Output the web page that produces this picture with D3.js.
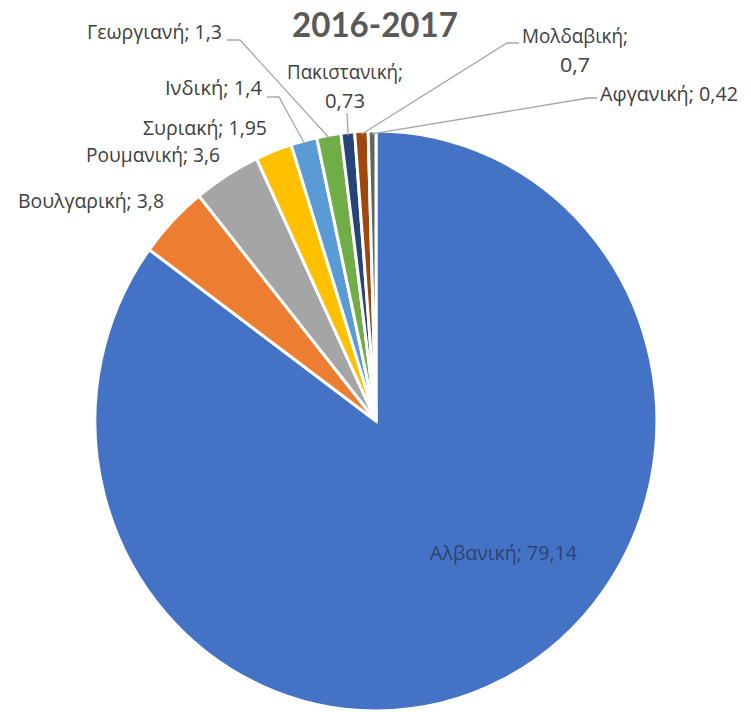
<!DOCTYPE html>
<html><head><meta charset="utf-8">
<script src="https://cdn.jsdelivr.net/npm/d3@7"></script>
<style>body{margin:0;background:#fff}svg{display:block}</style>
</head><body>
<svg id="c" width="751" height="712"></svg>
<script>
const title = "2016-2017";
const categories = ["Αλβανική","Βουλγαρική","Ρουμανική","Συριακή","Ινδική","Γεωργιανή","Πακιστανική","Μολδαβική","Αφγανική"];
const values = [79.14, 3.8, 3.6, 1.95, 1.4, 1.3, 0.73, 0.7, 0.42];
const valueLabels = ["79,14","3,8","3,6","1,95","1,4","1,3","0,73","0,7","0,42"];
const colors = ["#4472C4","#ED7D31","#A5A5A5","#FFC000","#5B9BD5","#70AD47","#264478","#9E480E","#636363"];

// label layout
const layout = [
  {x:430, y:560, anchor:"start", lines:1, lead:null, w:147},
  {x:164, y:208, anchor:"end", lines:1, lead:null, w:146},
  {x:220, y:162, anchor:"end", lines:1, lead:null, w:134},
  {x:267, y:135, anchor:"end", lines:1, lead:null, w:124},
  {x:262, y:95, anchor:"end", lines:1, lead:[[267,97],[279,97]], w:97},
  {x:222, y:39, anchor:"end", lines:1, lead:[[227,40],[240,40]], w:135},
  {x:345, y:79, anchor:"middle", lines:2, lead:[[347,113]], w:116, w2:40},
  {x:575, y:43, anchor:"middle", lines:2, lead:[[519,43],[507,43]], w:106, w2:30},
  {x:600, y:101, anchor:"start", lines:1, lead:[[597,98],[588,98]], w:138}
];

const svg = d3.select("#c");
const cx = 376, cy = 421, rx = 281, ry = 290;

const pie = d3.pie().sort(null).value(d => d)(values);
const arc = d3.arc().innerRadius(0).outerRadius(1);

const g = svg.append("g").attr("transform", `translate(${cx},${cy}) scale(${rx},${ry})`);
g.selectAll("path").data(pie).enter().append("path")
  .attr("d", arc)
  .attr("fill", (d,i) => colors[i])
  .attr("stroke", "#fff")
  .attr("stroke-width", 3)
  .attr("vector-effect", "non-scaling-stroke");

svg.append("text").attr("x", 375).attr("y", 37)
  .attr("text-anchor", "middle")
  .attr("font-family", "Lato, 'Open Sans', sans-serif")
  .attr("font-weight", "bold")
  .attr("font-size", 34)
  .attr("fill", "#595959")
  .attr("textLength", 166).attr("lengthAdjust", "spacingAndGlyphs")
  .text(title);

pie.forEach((d, i) => {
  const L = layout[i];
  if (!L.lead) return;
  const a = (d.startAngle + d.endAngle) / 2;
  const end = [cx + Math.sin(a) * rx * 0.99, cy - Math.cos(a) * ry * 0.99];
  svg.append("path")
    .attr("d", d3.line()(L.lead.concat([end])))
    .attr("fill", "none")
    .attr("stroke", "#A6A6A6")
    .attr("stroke-width", 1.3);
});

pie.forEach((d, i) => {
  const L = layout[i];
  const fill = i === 0 ? "#2E4372" : "#404040";
  const t = svg.append("text")
    .attr("font-family", "'Open Sans', 'Noto Sans', sans-serif")
    .attr("font-size", 19.5)
    .attr("fill", fill)
    .attr("text-anchor", L.anchor);
  if (L.lines === 1) {
    t.attr("x", L.x).attr("y", L.y)
     .attr("textLength", L.w).attr("lengthAdjust", "spacingAndGlyphs")
     .text(categories[i] + "; " + valueLabels[i]);
  } else {
    t.append("tspan").attr("x", L.x).attr("y", L.y)
     .attr("textLength", L.w).attr("lengthAdjust", "spacingAndGlyphs")
     .text(categories[i] + ";");
    t.append("tspan").attr("x", L.x).attr("y", L.y + 29)
     .attr("textLength", L.w2).attr("lengthAdjust", "spacingAndGlyphs")
     .text(valueLabels[i]);
  }
});
</script>
</body></html>
